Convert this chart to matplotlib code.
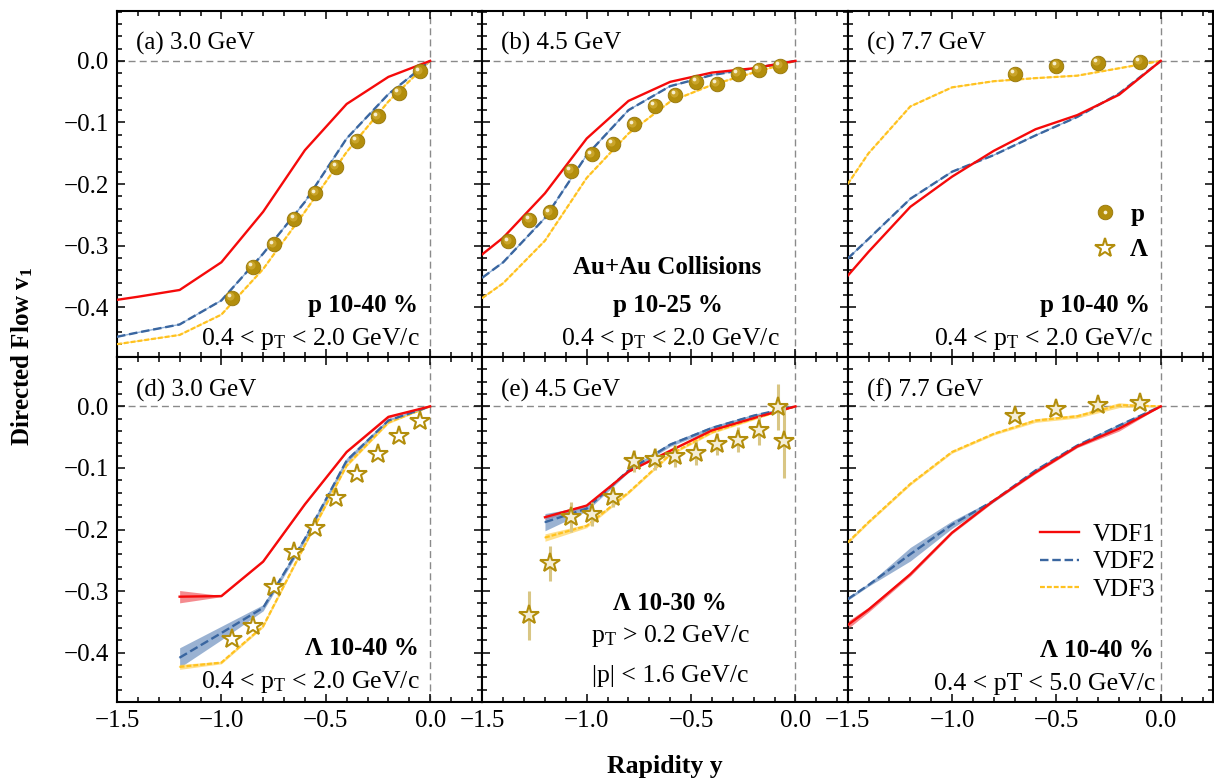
import matplotlib
matplotlib.use('Agg')
import matplotlib.pyplot as plt
from matplotlib.ticker import MultipleLocator
from matplotlib.transforms import offset_copy
from matplotlib.lines import Line2D

plt.rcParams['font.family'] = ['Liberation Serif', 'DejaVu Serif']
plt.rcParams['mathtext.fontset'] = 'custom'
plt.rcParams['mathtext.rm'] = 'Liberation Serif'
plt.rcParams['mathtext.it'] = 'Liberation Serif:italic'
plt.rcParams['mathtext.bf'] = 'Liberation Serif:bold'
plt.rcParams['axes.unicode_minus'] = True

# ---------------- data ----------------
x_up = [-1.5, -1.4, -1.2, -1.0, -0.8, -0.6, -0.4, -0.2, 0.0]
x_low = [-1.2, -1.0, -0.8, -0.6, -0.4, -0.2, 0.0]

# (a) 3.0 GeV protons
a_vdf1 = [-0.388, -0.383, -0.372, -0.327, -0.245, -0.145, -0.070, -0.026, 0.0]
a_vdf2 = [-0.448, -0.441, -0.428, -0.389, -0.313, -0.229, -0.126, -0.054, 0.0]
a_vdf3 = [-0.460, -0.455, -0.445, -0.412, -0.338, -0.245, -0.148, -0.066, 0.0]
a_p_y = [-0.95, -0.85, -0.75, -0.65, -0.55, -0.45, -0.35, -0.25, -0.15, -0.05]
a_p_v1 = [-0.385, -0.335, -0.298, -0.257, -0.215, -0.172, -0.130, -0.090, -0.052, -0.017]

# (b) 4.5 GeV protons
b_vdf1 = [-0.314, -0.287, -0.215, -0.126, -0.065, -0.034, -0.019, -0.012, 0.0]
b_vdf2 = [-0.352, -0.327, -0.255, -0.153, -0.080, -0.041, -0.023, -0.012, 0.0]
b_vdf3 = [-0.385, -0.361, -0.292, -0.190, -0.118, -0.066, -0.039, -0.019, 0.0]
b_p_y = [-1.375, -1.275, -1.175, -1.075, -0.975, -0.875, -0.775, -0.675, -0.575,
         -0.475, -0.375, -0.275, -0.175, -0.075]
b_p_v1 = [-0.293, -0.258, -0.246, -0.179, -0.152, -0.135, -0.103, -0.073, -0.055,
          -0.034, -0.037, -0.021, -0.014, -0.008]

# (c) 7.7 GeV protons
c_vdf1 = [-0.349, -0.310, -0.237, -0.188, -0.146, -0.111, -0.088, -0.055, 0.0]
c_vdf2 = [-0.321, -0.289, -0.224, -0.180, -0.153, -0.121, -0.091, -0.053, 0.0]
c_vdf3 = [-0.200, -0.150, -0.074, -0.043, -0.033, -0.028, -0.024, -0.012, 0.0]
c_p_y = [-0.7, -0.5, -0.3, -0.1]
c_p_v1 = [-0.021, -0.008, -0.003, -0.001]

# (d) 3.0 GeV Lambda
d_vdf1 = [-0.309, -0.308, -0.252, -0.159, -0.074, -0.017, 0.0]
d_vdf1_err = [0.010, 0.001, 0.001, 0.001, 0.001, 0.002, 0.0]
d_vdf2 = [-0.408, -0.368, -0.327, -0.215, -0.088, -0.023, 0.0]
d_vdf2_err = [0.016, 0.011, 0.005, 0.004, 0.004, 0.003, 0.0]
d_vdf3 = [-0.423, -0.416, -0.357, -0.225, -0.096, -0.026, 0.0]
d_vdf3_err = [0.004, 0.002, 0.002, 0.002, 0.002, 0.002, 0.0]
d_l_y = [-0.95, -0.85, -0.75, -0.65, -0.55, -0.45, -0.35, -0.25, -0.15, -0.05]
d_l_v1 = [-0.377, -0.357, -0.293, -0.237, -0.197, -0.148, -0.109, -0.077, -0.048, -0.024]

# (e) 4.5 GeV Lambda
e_vdf1 = [-0.180, -0.161, -0.106, -0.072, -0.039, -0.019, 0.0]
e_vdf1_err = [0.004, 0.002, 0.001, 0.001, 0.001, 0.001, 0.0]
e_vdf2 = [-0.188, -0.166, -0.104, -0.062, -0.035, -0.015, 0.0]
e_vdf2_err = [0.014, 0.004, 0.003, 0.003, 0.003, 0.002, 0.0]
e_vdf3 = [-0.213, -0.194, -0.140, -0.078, -0.042, -0.020, 0.0]
e_vdf3_err = [0.006, 0.003, 0.002, 0.002, 0.002, 0.002, 0.0]
e_l_y = [-1.275, -1.175, -1.075, -0.975, -0.875, -0.775, -0.675, -0.575, -0.475,
         -0.375, -0.275, -0.175, -0.085, -0.055]
e_l_v1 = [-0.339, -0.255, -0.180, -0.175, -0.147, -0.089, -0.085, -0.080, -0.076,
          -0.061, -0.054, -0.039, -0.001, -0.057]
e_l_err = [0.040, 0.028, 0.024, 0.019, 0.016, 0.018, 0.018, 0.018, 0.019,
           0.018, 0.020, 0.023, 0.038, 0.060]

# (f) 7.7 GeV Lambda
f_vdf1 = [-0.355, -0.330, -0.2725, -0.205, -0.153, -0.107, -0.065, -0.036, 0.0]
f_vdf1_err = [0.006, 0.004, 0.003, 0.002, 0.002, 0.002, 0.002, 0.004, 0.0]
f_vdf2 = [-0.313, -0.290, -0.240, -0.192, -0.153, -0.104, -0.0635, -0.031, 0.0]
f_vdf2_err = [0.002, 0.002, 0.011, 0.006, 0.002, 0.002, 0.002, 0.002, 0.0]
f_vdf3 = [-0.221, -0.188, -0.126, -0.074, -0.0445, -0.023, -0.016, 0.002, 0.0]
f_vdf3_err = [0.002, 0.002, 0.002, 0.002, 0.002, 0.003, 0.003, 0.004, 0.0]
f_l_y = [-0.7, -0.5, -0.3, -0.1]
f_l_v1 = [-0.016, -0.004, 0.002, 0.005]

panel_titles = ['(a) 3.0 GeV', '(b) 4.5 GeV', '(c) 7.7 GeV',
                '(d) 3.0 GeV', '(e) 4.5 GeV', '(f) 7.7 GeV']
model_labels = ['VDF1', 'VDF2', 'VDF3']

# ---------------- style ----------------
C1 = '#f50a0a'
C2 = '#3a66a0'
C3 = '#ffc21f'
B1 = '#f05a60'
B2 = '#6f92c0'
B3 = '#ffd35a'
MC = '#b38e0c'
MCE = '#957508'
ERRC = '#d9c684'
ZL = '#8a8a8a'

fig, axes = plt.subplots(2, 3, figsize=(12.14, 7.83), dpi=100, sharex=True, sharey=True)
fig.subplots_adjust(left=117/1214, right=1213/1214, top=1-11/783, bottom=1-702/783,
                    wspace=0, hspace=0)


def models(ax, x, y1, y2, y3, e1=None, e2=None, e3=None):
    if e1 is not None:
        ax.fill_between(x, [a - b for a, b in zip(y1, e1)], [a + b for a, b in zip(y1, e1)],
                        color=B1, alpha=0.7, lw=0, zorder=2)
        ax.fill_between(x, [a - b for a, b in zip(y2, e2)], [a + b for a, b in zip(y2, e2)],
                        color=B2, alpha=0.7, lw=0, zorder=2)
        ax.fill_between(x, [a - b for a, b in zip(y3, e3)], [a + b for a, b in zip(y3, e3)],
                        color=B3, alpha=0.7, lw=0, zorder=2)
    ax.plot(x, y3, color='#ffe08a', lw=1.0, zorder=3)
    ax.plot(x, y3, color=C3, lw=1.6, ls=(0, (2.2, 0.9)), zorder=3.1)
    ax.plot(x, y2, color='#8fb0d8', lw=1.0, zorder=3.2)
    ax.plot(x, y2, color=C2, lw=1.7, ls=(0, (3.6, 1.6)), zorder=3.3)
    ax.plot(x, y1, color=C1, lw=1.7, zorder=3.4)


def spheres(ax, x, y):
    ax.plot(x, y, ls='none', marker='o', ms=10.5, mfc=MC, mec=MCE, mew=0.6, zorder=5)
    tr = offset_copy(ax.transData, fig=fig, x=-1.8, y=1.8, units='dots')
    ax.plot(x, y, ls='none', marker='o', ms=5.8, mfc='#c9a42a', mec='none', zorder=5.1,
            transform=tr)
    tr2 = offset_copy(ax.transData, fig=fig, x=-2.7, y=2.7, units='dots')
    ax.plot(x, y, ls='none', marker='o', ms=2.7, mfc='#f6efcf', mec='none', zorder=5.2,
            transform=tr2)


def stars(ax, x, y, err=None, fill='white'):
    if err is not None:
        ax.errorbar(x, y, yerr=err, fmt='none', ecolor=ERRC, elinewidth=2.2, capsize=0,
                    zorder=4)
    ax.plot(x, y, ls='none', marker='*', ms=14.5, mfc=fill, mec=MC, mew=1.5, zorder=5)


ax_a, ax_b, ax_c = axes[0]
ax_d, ax_e, ax_f = axes[1]

models(ax_a, x_up, a_vdf1, a_vdf2, a_vdf3)
spheres(ax_a, a_p_y, a_p_v1)
models(ax_b, x_up, b_vdf1, b_vdf2, b_vdf3)
spheres(ax_b, b_p_y, b_p_v1)
models(ax_c, x_up, c_vdf1, c_vdf2, c_vdf3)
spheres(ax_c, c_p_y, c_p_v1)

models(ax_d, x_low, d_vdf1, d_vdf2, d_vdf3, d_vdf1_err, d_vdf2_err, d_vdf3_err)
stars(ax_d, d_l_y, d_l_v1)
models(ax_e, x_low, e_vdf1, e_vdf2, e_vdf3, e_vdf1_err, e_vdf2_err, e_vdf3_err)
stars(ax_e, e_l_y, e_l_v1, e_l_err, fill='#f4eed8')
models(ax_f, x_up, f_vdf1, f_vdf2, f_vdf3, f_vdf1_err, f_vdf2_err, f_vdf3_err)
stars(ax_f, f_l_y, f_l_v1, fill='#f4eed8')

for i, ax in enumerate(axes.flat):
    ax.axhline(0, color=ZL, lw=1.0, ls=(0, (5, 3)), zorder=1)
    ax.axvline(0, color=ZL, lw=1.0, ls=(0, (5, 3)), zorder=1)
    ax.set_xlim(-1.5, 0.25)
    ax.set_ylim(-0.48, 0.081)
    ax.xaxis.set_major_locator(MultipleLocator(0.5))
    ax.xaxis.set_minor_locator(MultipleLocator(0.1))
    ax.yaxis.set_major_locator(MultipleLocator(0.1))
    ax.yaxis.set_minor_locator(MultipleLocator(0.02))
    ax.tick_params(which='both', direction='in', top=True, right=True, labelsize=18,
                   width=1.1, pad=6)
    ax.tick_params(which='major', length=6)
    ax.tick_params(which='minor', length=3.5)
    for s in ax.spines.values():
        s.set_linewidth(1.5)
    ax.text(0.052, 0.889 if i < 3 else 0.884, panel_titles[i], transform=ax.transAxes,
            fontsize=18, va='baseline', ha='left')

bold = dict(fontsize=18, fontweight='bold', va='baseline')
norm = dict(fontsize=18.5, va='baseline')
pt_txt = r'0.4 < p$_\mathrm{T}$ < 2.0 GeV/c'

ax_a.text(0.825, 0.128, 'p 10-40 %', transform=ax_a.transAxes, ha='right', **bold)
ax_a.text(0.830, 0.032, pt_txt, transform=ax_a.transAxes, ha='right', **norm)

ax_b.text(0.507, 0.24, 'Au+Au Collisions', transform=ax_b.transAxes, ha='center', **bold)
ax_b.text(0.509, 0.128, 'p 10-25 %', transform=ax_b.transAxes, ha='center', **bold)
ax_b.text(0.514, 0.032, pt_txt, transform=ax_b.transAxes, ha='center', **norm)

ax_c.text(0.827, 0.128, 'p 10-40 %', transform=ax_c.transAxes, ha='right', **bold)
ax_c.text(0.836, 0.032, pt_txt, transform=ax_c.transAxes, ha='right', **norm)

ax_d.text(0.826, 0.136, 'Λ 10-40 %', transform=ax_d.transAxes, ha='right', **bold)
ax_d.text(0.830, 0.040, pt_txt, transform=ax_d.transAxes, ha='right', **norm)

ax_e.text(0.512, 0.266, 'Λ 10-30 %', transform=ax_e.transAxes, ha='center', **bold)
ax_e.text(0.514, 0.174, r'p$_\mathrm{T}$ > 0.2 GeV/c', transform=ax_e.transAxes,
          ha='center', **norm)
ax_e.text(0.514, 0.059, '|p| < 1.6 GeV/c', transform=ax_e.transAxes, ha='center', **norm)

ax_f.text(0.837, 0.131, 'Λ 10-40 %', transform=ax_f.transAxes, ha='right', **bold)
ax_f.text(0.841, 0.035, '0.4 < pT < 5.0 GeV/c', transform=ax_f.transAxes, ha='right', **norm)

# legends
h_p = (Line2D([], [], ls='none', marker='o', ms=10.5, mfc=MC, mec=MCE, mew=0.6),
       Line2D([], [], ls='none', marker='o', ms=2.7, mfc='#f6efcf', mec='none'))
h_l = Line2D([], [], ls='none', marker='*', ms=14.5, mfc='white', mec=MC, mew=1.5)
ax_c.legend([h_p, h_l], ['p', 'Λ'], loc='center left', bbox_to_anchor=(0.674, 0.36),
            frameon=False, prop=dict(size=18, weight='bold'), handlelength=0.9,
            handletextpad=0.55, labelspacing=0.5, borderpad=0, borderaxespad=0,
            numpoints=1)

h1 = Line2D([], [], color=C1, lw=1.7)
h2 = Line2D([], [], color=C2, lw=1.7, ls=(0, (3.6, 1.6)))
h3 = Line2D([], [], color=C3, lw=1.6, ls=(0, (2.2, 0.9)))
ax_f.legend([h1, h2, h3], model_labels, loc='center left', bbox_to_anchor=(0.526, 0.405),
            frameon=False, prop=dict(size=18), handlelength=1.55, handletextpad=0.55,
            labelspacing=0.2, borderpad=0, borderaxespad=0)

fig.text(22/1214, 1 - 356/783, r'Directed Flow $\mathbf{v_1}$', rotation=90,
         ha='center', va='center', fontsize=18, fontweight='bold')
fig.text(665/1214, 1 - 773/783, 'Rapidity y', ha='center', va='baseline',
         fontsize=18.5, fontweight='bold')

fig.savefig('out.png', dpi=100)
